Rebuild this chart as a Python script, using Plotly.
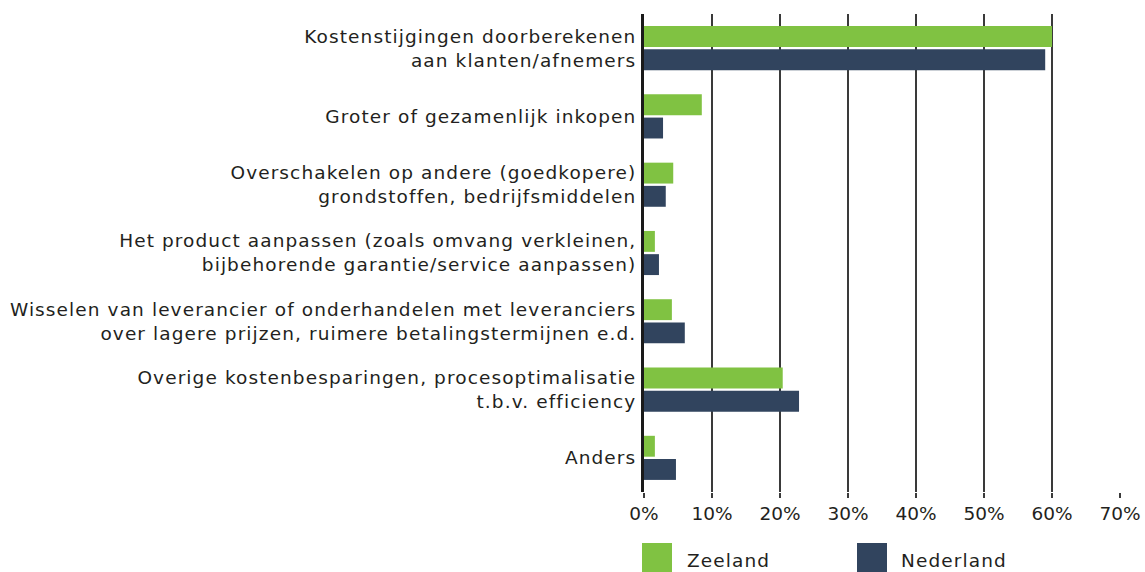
import plotly.graph_objects as go

categories = [
    "Kostenstijgingen doorberekenen<br>aan klanten/afnemers",
    "Groter of gezamenlijk inkopen",
    "Overschakelen op andere (goedkopere)<br>grondstoffen, bedrijfsmiddelen",
    "Het product aanpassen (zoals omvang verkleinen,<br>bijbehorende garantie/service aanpassen)",
    "Wisselen van leverancier of onderhandelen met leveranciers<br>over lagere prijzen, ruimere betalingstermijnen e.d.",
    "Overige kostenbesparingen, procesoptimalisatie<br>t.b.v. efficiency",
    "Anders",
]
zeeland = [60.0, 8.5, 4.3, 1.6, 4.1, 20.4, 1.6]
nederland = [59.0, 2.8, 3.2, 2.2, 6.0, 22.8, 4.7]
series_names = ["Zeeland", "Nederland"]
tick_vals = [0, 10, 20, 30, 40, 50, 60, 70]
tick_text = ["0%", "10%", "20%", "30%", "40%", "50%", "60%", "70%"]

green = "#80c242"
navy = "#31445e"
font_family = "DejaVu Sans, sans-serif"
fs = 18.5
LS = "letter-spacing:1.1px"

def spaced(label):
    return "<br>".join(f'<span style="{LS}">{part}</span>' for part in label.split("<br>"))

cat_labels = [spaced(c) for c in categories]

fig = go.Figure()
fig.add_trace(go.Bar(y=categories, x=zeeland, orientation="h", name=series_names[0],
                     marker=dict(color=green, line=dict(width=0))))
fig.add_trace(go.Bar(y=categories, x=nederland, orientation="h", name=series_names[1],
                     marker=dict(color=navy, line=dict(width=0))))

W, H = 1145, 572
ml, mr, mt, mb = 644, 25, 14, 80
pw = W - ml - mr
ph = H - mt - mb

def px(x):
    return (x - ml) / pw

def py(y):
    return (H - mb - y) / ph

shapes = []
annotations = []
legend_items = [(series_names[0], green, 642, 685), (series_names[1], navy, 857, 899)]
for name, col, sx, tx in legend_items:
    shapes.append(dict(type="rect", xref="paper", yref="paper",
                       x0=px(sx), x1=px(sx + 30), y0=py(573), y1=py(543),
                       fillcolor=col, line=dict(width=0)))
    annotations.append(dict(text=spaced(name), xref="paper", yref="paper", x=px(tx), y=py(560),
                            xanchor="left", yanchor="middle", showarrow=False,
                            font=dict(family=font_family, size=fs, color="#231f20")))

fig.update_layout(
    width=W, height=H,
    margin=dict(l=ml, r=mr, t=mt, b=mb),
    paper_bgcolor="white", plot_bgcolor="white",
    barmode="group", bargap=0.32, bargroupgap=0.1,
    showlegend=False,
    font=dict(family=font_family, size=fs, color="#231f20"),
    shapes=shapes, annotations=annotations,
    xaxis=dict(range=[0, 70], tickvals=tick_vals, ticktext=tick_text,
               showgrid=True, gridcolor="#3a3a3a", gridwidth=1.5,
               zeroline=False, showline=False, automargin=False,
               ticks="outside", ticklen=5, tickcolor="#3a3a3a", tickwidth=1.5,
               tickfont=dict(size=fs)),
    yaxis=dict(autorange="reversed", showline=True, linecolor="#1a1a1a", linewidth=3,
               tickmode="array", tickvals=categories, ticktext=cat_labels,
               ticks="", ticklabelstandoff=1, showgrid=False, automargin=False,
               tickfont=dict(size=fs)),
)

fig.write_html("out.html", config={"displayModeBar": False},
               post_script="document.body.style.margin='0';document.body.style.overflow='hidden';")
